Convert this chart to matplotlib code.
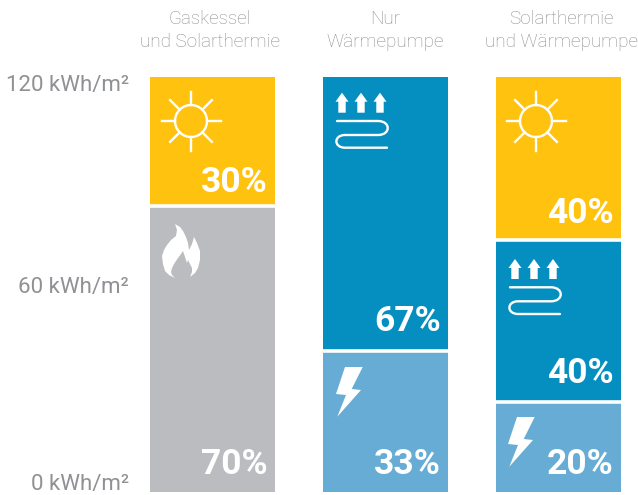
import matplotlib
matplotlib.use("Agg")
import matplotlib.pyplot as plt
import numpy as np
from matplotlib.patches import Circle, PathPatch, Polygon
from matplotlib.path import Path
from matplotlib.transforms import Affine2D

plt.rcParams['font.family'] = ['Roboto', 'DejaVu Sans']

systems = ['Gaskessel\nund Solarthermie', 'Nur\nWärmepumpe', 'Solarthermie\nund Wärmepumpe']
y_ticks = [0, 60, 120]
y_labels = ['0 kWh/m²', '60 kWh/m²', '120 kWh/m²']

# kWh/m2, bottom segment first
bar_values = [
    [82.6, 37.4],
    [40.9, 79.1],
    [26.0, 46.9, 47.1],
]
bar_kinds = [
    ['gas', 'solar'],
    ['power', 'heat'],
    ['power', 'heat', 'solar'],
]
bar_shares = [
    ['70%', '30%'],
    ['33%', '67%'],
    ['20%', '40%', '40%'],
]
colors = {'solar': '#ffc30f', 'gas': '#bbbcbf', 'heat': '#048fc0', 'power': '#67acd4'}

# baseline lift of each percent label, pixels
share_lift = [[18, 14], [18, 20], [18, 19, 17]]

W, H = 638, 495
fig = plt.figure(figsize=(W / 100, H / 100), dpi=100)
ax = fig.add_axes([150 / W, (H - 492) / H, 471 / W, 415 / H])
bar_w = 125 / 173
x = np.arange(3)

# pixel space of the image, y going down, for the icons
px = Affine2D().scale(1, -1).translate(0, H)

for i, vals in enumerate(bar_values):
    bottom = 0
    for j, v in enumerate(vals):
        ax.bar(x[i], v, bar_w, bottom=bottom, color=colors[bar_kinds[i][j]], linewidth=0)
        ax.annotate(bar_shares[i][j], (x[i] + bar_w / 2, bottom), xytext=(-7.5, share_lift[i][j]),
                    textcoords='offset pixels', ha='right', va='baseline', color='white',
                    fontsize=25.5, fontweight='bold')
        bottom += v
        if j < len(vals) - 1:
            ax.plot([x[i] - bar_w / 2, x[i] + bar_w / 2], [bottom, bottom], color='white',
                    lw=2.6, solid_capstyle='butt')

ax.set_xlim(-bar_w / 2, 2 + bar_w / 2)
ax.set_ylim(0, 120)
for s in ax.spines.values():
    s.set_visible(False)
ax.xaxis.tick_top()
ax.set_xticks(x, systems, fontsize=13.6, color='#8e8f91', fontweight='light', linespacing=1.32)
ax.set_yticks(y_ticks, y_labels, fontsize=16, color='#8f9194')
ax.tick_params(axis='both', length=0)
ax.tick_params(axis='y', pad=15)
ax.tick_params(axis='x', pad=19)
for lab, va, dy in zip(ax.get_yticklabels(), ['bottom', 'center', 'top'], [-3, -3, 2]):
    lab.set_va(va)
    lab.set_transform(lab.get_transform() + Affine2D().translate(0, dy))
for lab, dx in zip(ax.get_xticklabels(), [-2.5, 0, 3]):
    lab.set_transform(lab.get_transform() + Affine2D().translate(dx, 0))


def sun(cx, cy):
    fig.add_artist(Circle((cx, cy), 16, fill=False, ec='white', lw=1.7, transform=px))
    for a in np.arange(8) * np.pi / 4:
        fig.add_artist(plt.Line2D([cx + 16 * np.cos(a), cx + 29.5 * np.cos(a)],
                                  [cy + 16 * np.sin(a), cy + 29.5 * np.sin(a)],
                                  color='white', lw=1.7, transform=px))


def bolt(ox, oy):
    pts = [(9, 0), (26.7, 0), (15.7, 22), (25, 23), (1.3, 49.7), (10, 28), (0, 27)]
    fig.add_artist(Polygon([(ox + a, oy + b) for a, b in pts], fc='white', ec='none', transform=px))


def heat(ox, oy):
    for k in range(3):
        cx = ox + 7 + k * 19
        pts = [(cx, oy), (cx + 6.5, oy + 9), (cx + 3.7, oy + 9), (cx + 3.7, oy + 20),
               (cx - 3.7, oy + 20), (cx - 3.7, oy + 9), (cx - 6.5, oy + 9)]
        fig.add_artist(Polygon(pts, fc='white', ec='none', transform=px))
    verts = [(ox + 2, oy + 28.3), (ox + 43, oy + 28.3), (ox + 56, oy + 28.3), (ox + 56, oy + 42.3),
             (ox + 43, oy + 42.3), (ox + 10, oy + 42.3), (ox - 1.5, oy + 42.3), (ox - 1.5, oy + 55),
             (ox + 10, oy + 55), (ox + 52, oy + 55)]
    codes = [Path.MOVETO, Path.LINETO, Path.CURVE4, Path.CURVE4, Path.CURVE4, Path.LINETO,
             Path.CURVE4, Path.CURVE4, Path.CURVE4, Path.LINETO]
    fig.add_artist(PathPatch(Path(verts, codes), fill=False, ec='white', lw=1.7,
                             capstyle='round', transform=px))


def flame(ox, oy):
    pts = [(13, 0), (18, 3), (21, 7), (24, 13), (26, 19), (27, 26), (30, 20), (32, 13),
           (35, 19), (38, 27), (38, 36), (36, 44), (33, 49), (28, 53), (30, 48), (30, 44),
           (28, 40), (26, 36), (25, 39), (23, 33), (21, 27), (19, 30), (16, 34), (12, 40),
           (10, 44), (9, 48), (10, 51), (13, 54), (7, 51), (3, 47), (1, 40), (0, 32),
           (2, 26), (5, 21), (9, 16), (14, 12), (15, 6)]
    fig.add_artist(Polygon([(ox + a, oy + b) for a, b in pts], fc='white', ec='none', transform=px))


sun(191, 121)
sun(536, 121)
flame(162, 224)
heat(335, 92.7)
heat(508, 259)
bolt(336, 367)
bolt(508, 417)

fig.savefig('out.png', dpi=100)
